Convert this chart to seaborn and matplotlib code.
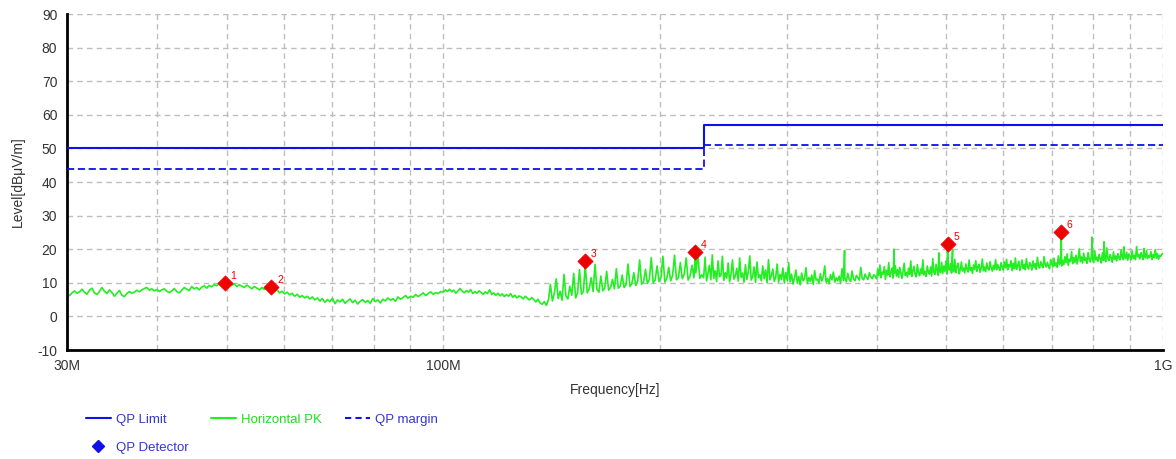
import numpy as np
import pandas as pd
import matplotlib
matplotlib.use("Agg")
import matplotlib.pyplot as plt
from matplotlib.lines import Line2D
from matplotlib.ticker import FixedLocator, NullFormatter, FixedFormatter
import seaborn as sns

# ---------------- data ----------------
# limit lines (MHz, dBuV/m), step at 230 MHz
limit_freqs = [30, 230, 1000]
qp_limit = [50, 57, 57]
qp_margin = [44, 51, 51]

# broadband sweep, per frequency segment (MHz)
seg1_range = (30, 50)
seg1 = [6.8,6.2,7.0,7.6,6.9,7.3,8.1,7.2,6.6,7.8,8.4,7.0,6.5,7.4,8.6,7.5,6.8,7.9,7.1,6.0,
        6.9,7.7,6.3,5.9,6.8,7.4,6.9,7.2,7.8,7.3,7.9,8.3,8.6,7.8,8.2,7.6,8.0,7.4,7.9,8.2,
        7.5,7.1,7.6,8.3,7.4,7.0,7.8,8.6,8.1,7.7,8.9,8.2,8.6,7.9,8.7,9.1,8.4,9.2,8.8,9.5,
        9.1,9.8,9.4,10.0]
seg2_range = (50, 100)
seg2 = [9.6,10.1,9.2,9.7,8.9,9.4,9.0,8.6,9.3,8.8,8.2,8.9,8.4,7.9,8.6,8.0,8.5,7.6,8.2,7.4,
        7.9,7.0,7.5,6.7,7.2,6.4,6.9,6.0,6.6,5.7,6.2,5.5,6.0,5.2,5.8,4.9,5.5,4.6,5.3,4.2,
        5.0,4.4,5.4,3.8,4.9,4.3,5.1,3.9,4.6,5.2,4.1,4.8,3.7,4.5,5.0,4.2,4.7,3.9,5.3,4.4,
        4.9,4.0,5.1,4.6,5.5,4.8,5.3,4.5,5.8,5.1,5.6,6.2,5.4,6.0,5.7,6.5,5.9,6.4,7.0,6.2,
        6.8,7.3,6.6,7.1,6.8,7.4]
seg3_range = (100, 140)
seg3 = [7.2,7.9,7.4,8.1,7.3,7.8,6.9,7.6,8.3,7.5,7.0,7.7,7.2,8.0,6.8,7.4,6.9,7.6,7.1,6.6,
        7.3,6.8,7.9,6.5,7.0,6.3,6.9,6.1,6.7,5.9,6.5,6.0,6.8,5.7,6.3,5.5,6.1,5.8,5.2,6.0,
        5.4,4.9,5.6,5.0,4.3,5.1,4.0,3.6,4.4,3.3]
seg4_range = (140, 230)
seg4 = [5.0,9.5,4.6,6.8,11.2,5.3,7.5,4.8,12.5,6.0,5.2,9.0,6.3,12.8,5.5,7.0,13.9,6.6,7.4,14.8,
        7.0,8.2,11.5,7.4,15.5,8.0,7.2,12.0,7.6,8.5,13.4,7.8,8.6,11.0,8.2,14.2,8.4,9.0,12.3,8.6,
        9.4,15.6,8.9,9.8,13.0,9.2,10.4,16.8,9.6,10.2,14.0,9.8,11.0,17.5,10.0,10.8,15.0,10.4,11.6,17.9,
        10.2,11.3,14.6,10.6,12.2,18.2,10.9,11.5,16.0,11.2,12.6,17.4,10.8,12.0,15.2,11.5,13.0,18.5,11.3,12.4]
seg5_range = (230, 400)
seg5 = [11.5,17.6,10.6,12.8,15.2,10.9,18.3,11.3,13.6,10.4,16.5,11.8,12.2,17.9,10.7,13.0,11.4,15.9,10.3,12.6,
        16.8,11.1,12.0,14.3,10.5,17.4,11.6,12.9,10.2,15.4,11.0,13.3,18.0,10.8,11.9,14.7,10.1,16.2,11.5,12.4,
        10.6,15.0,11.2,13.8,10.0,16.9,10.9,12.1,14.1,10.4,11.7,15.6,10.2,12.5,11.0,14.4,9.9,13.1,10.7,16.0,
        10.3,12.6,9.6,11.4,13.8,10.0,11.9,9.4,12.9,10.6,11.2,14.5,9.8,11.6,10.4,12.3,9.5,13.6,10.8,11.1,
        9.9,12.7,10.5,11.8,15.0,10.1,11.3,9.7,12.4,10.9,13.2,10.2,11.5,10.6,12.0,9.8,14.2,10.7,11.4,10.3,
        12.8,11.0,10.4,13.5,11.2,10.6,12.2,11.5,10.8,14.6,11.3,10.9,12.6,11.6,11.0,13.0,11.8,11.2,12.4,12.0]
seg6_range = (400, 1000)
seg6 = [11.2,14.0,12.1,15.3,11.5,13.2,12.6,14.8,11.0,13.7,12.3,16.0,11.8,13.0,14.4,11.4,12.8,15.1,12.0,13.9,
        11.6,14.6,12.9,11.3,13.5,15.8,12.2,13.1,11.7,14.3,12.5,16.5,11.9,13.6,14.9,12.4,11.8,15.4,13.0,12.1,
        14.1,12.7,16.8,12.3,13.4,11.9,15.0,13.2,12.6,14.7,12.0,17.2,13.1,12.5,15.5,13.6,12.2,14.4,13.0,16.1,
        12.8,15.0,13.4,16.4,12.6,14.2,13.8,15.7,12.9,14.6,13.3,17.0,13.0,14.9,15.8,12.7,13.9,16.2,13.5,14.4,
        12.9,15.6,14.1,13.2,16.8,13.7,14.5,12.8,15.3,14.0,16.6,13.4,14.8,15.5,13.1,14.3,17.1,13.6,14.7,13.3,
        15.9,14.2,13.8,16.3,14.6,13.5,15.2,14.0,16.9,13.9,15.4,14.4,13.7,16.0,14.8,
        13.8,16.2,14.5,17.0,13.9,15.4,14.7,16.6,13.6,15.8,14.2,17.4,14.0,15.1,16.4,13.7,14.9,16.8,14.3,15.5,
        13.9,17.2,14.8,14.1,16.0,15.3,13.8,16.5,14.6,15.7,14.0,17.6,15.0,14.4,16.3,15.2,14.5,17.8,15.4,14.7,
        16.1,15.0,14.2,16.9,15.6,14.8,17.3,15.1,15.9,14.6,18.0,15.5,16.2,15.0,16.7,
        15.4,17.8,16.0,18.6,15.2,17.0,16.4,19.3,15.7,17.5,16.1,18.2,15.6,17.2,20.1,16.3,17.7,15.9,18.8,16.6,
        17.4,15.8,19.0,16.9,16.2,18.1,17.3,16.0,19.6,16.8,17.6,16.4,18.5,17.1,15.9,18.9,16.7,17.8,16.3,20.4,
        17.2,16.6,18.4,17.5,16.1,19.2,17.0,18.0,16.5,18.7,17.4,16.8,19.8,17.6,16.9,18.3,17.2,19.1,16.7,18.6,
        17.9,16.8,19.5,17.3,18.2,16.9,20.8,17.7,18.5,17.1,19.0,17.8,16.9,18.8,17.4,19.6,17.2,18.1,17.6,19.3,
        16.9,18.4,17.5,19.9,17.3,18.7,17.0,18.2,17.9,18.6]

# narrowband spikes on the PK trace (MHz, dBuV/m)
spike_freqs = [157.5, 224, 361, 423, 488, 502, 510, 722, 797, 828, 882, 941]
spike_levels = [15.5, 18.6, 19.6, 20.0, 18.9, 20.6, 19.8, 23.8, 23.6, 22.2, 20.7, 20.2]

# QP detector results
qp_freqs = [49.7, 57.7, 157.5, 224, 502, 722]
qp_levels = [9.9, 8.8, 16.5, 19.1, 21.5, 25.2]
qp_labels = ["1", "2", "3", "4", "5", "6"]

# axis ticks
ytick_vals = list(range(-10, 91, 10))
xmajor_vals = [30, 100, 1000]
xmajor_labels = ["30M", "100M", "1G"]
xminor_vals = [40, 50, 60, 70, 80, 90, 200, 300, 400, 500, 600, 700, 800, 900]

# ---------------- build trace ----------------
freqs, levels = [], []
for (fa, fb), vals in [(seg1_range, seg1), (seg2_range, seg2), (seg3_range, seg3),
                       (seg4_range, seg4), (seg5_range, seg5), (seg6_range, seg6)]:
    freqs.extend(np.geomspace(fa, fb, len(vals), endpoint=False))
    levels.extend(vals)
freqs.extend(spike_freqs)
levels.extend(spike_levels)
freqs.append(1000.0)
levels.append(seg6[-1])
trace = pd.DataFrame({"f": freqs, "lvl": levels}).sort_values("f")

qp_df = pd.DataFrame({"f": qp_freqs, "lvl": qp_levels})

# ---------------- plot ----------------
sns.set_style("white")
plt.rcParams["font.family"] = ["Liberation Sans", "DejaVu Sans"]
plt.rcParams["axes.unicode_minus"] = False

BLUE = "#1010e8"
GREEN = "#22ee22"
RED = "#ee0000"
TXT = "#333333"

fig = plt.figure(figsize=(11.76, 4.59), dpi=100)
ax = fig.add_axes([67/1176, 1-350/459, (1163-67)/1176, (350-14)/459])
ax.set_xscale("log")
ax.set_xlim(30, 1000)
ax.set_ylim(-10, 90)

ax.plot(limit_freqs, qp_limit, drawstyle="steps-post", color=BLUE, lw=1.5, zorder=3)
ax.plot(limit_freqs, qp_margin, drawstyle="steps-post", color=BLUE, lw=1.3,
        linestyle=(0, (4, 2)), zorder=3)
sns.lineplot(data=trace, x="f", y="lvl", ax=ax, color=GREEN, lw=1.2,
             estimator=None, sort=False, zorder=2, legend=False)
sns.scatterplot(data=qp_df, x="f", y="lvl", ax=ax, marker="D", s=60, color=RED,
                edgecolor=RED, linewidth=0.5, zorder=5, legend=False)
for f, l, t in zip(qp_freqs, qp_levels, qp_labels):
    ax.annotate(t, (f, l), xytext=(4, 3), textcoords="offset points",
                color=RED, fontsize=7.5, zorder=6)

# ticks / grid
ax.yaxis.set_major_locator(FixedLocator(ytick_vals))
ax.xaxis.set_major_locator(FixedLocator(xmajor_vals))
ax.xaxis.set_major_formatter(FixedFormatter(xmajor_labels))
ax.xaxis.set_minor_locator(FixedLocator(xminor_vals))
ax.xaxis.set_minor_formatter(NullFormatter())
ax.grid(True, which="both", color="#bdbdbd", linestyle=(0, (4, 3)), lw=1.0, zorder=0)
ax.tick_params(axis="both", which="both", direction="inout", length=7, width=1.5,
               colors="black", labelcolor=TXT, labelsize=10)
ax.tick_params(axis="x", which="major", pad=3)
for s in ["top", "right"]:
    ax.spines[s].set_visible(False)
for s in ["left", "bottom"]:
    ax.spines[s].set_linewidth(2)
    ax.spines[s].set_color("black")

ax.set_xlabel("Frequency[Hz]", fontsize=10, color=TXT, labelpad=7)
ax.set_ylabel("Level[dBμV/m]", fontsize=10, color=TXT, labelpad=9)

# legend
handles = [
    Line2D([], [], color=BLUE, lw=1.5),
    Line2D([], [], color=BLUE, marker="D", linestyle="none", markersize=6),
    Line2D([], [], color=GREEN, lw=1.5),
    Line2D([], [], color=BLUE, lw=1.5, linestyle=(0, (3, 2))),
]
labels = ["QP Limit", "QP Detector", "Horizontal PK", "QP margin"]
leg = fig.legend(handles, labels, ncol=3, loc="upper left",
                 bbox_to_anchor=(74/1176, 1-402/459), frameon=False,
                 fontsize=9.5, handlelength=1.9, columnspacing=1.75,
                 labelspacing=1.15, handletextpad=0.35,
                 labelcolor=["#3535d0", "#3535d0", "#22dd22", "#3535d0"])

fig.savefig("out.png", dpi=100)
